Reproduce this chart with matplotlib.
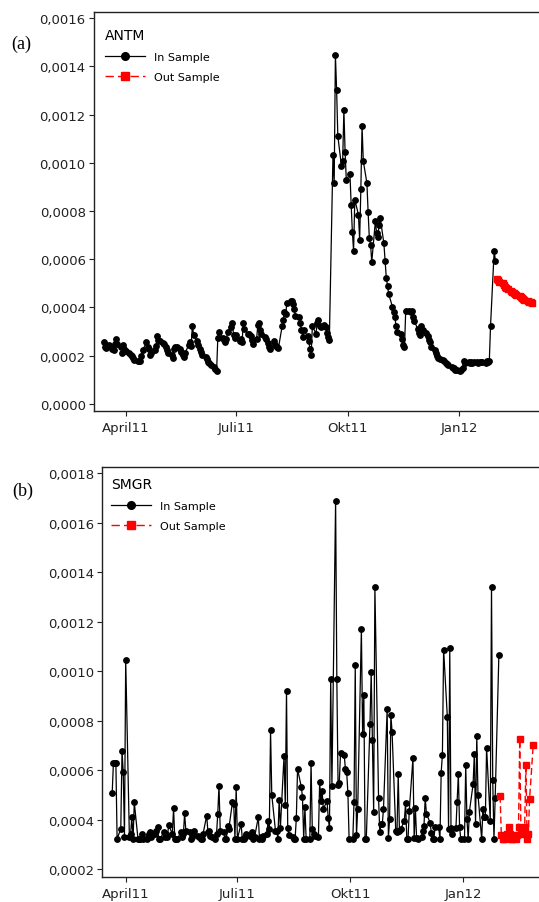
import matplotlib
matplotlib.use("Agg")
import numpy as np
import pandas as pd
import matplotlib.pyplot as plt
import matplotlib.dates as mdates
from matplotlib.lines import Line2D
from matplotlib.ticker import FuncFormatter, MultipleLocator

plt.rcParams['font.family'] = ['DejaVu Sans']

# ---- data (daily trading days) ----
antm_start = '2011-03-14'
antm_in = [
    0.000258, 0.000238, 0.000232, 0.00024, 0.000245, 0.000228, 0.000222, 0.00025, 0.000268, 0.000248,
    0.000238, 0.00021, 0.000245, 0.00023, 0.000218, 0.000212, 0.000205, 0.000198, 0.00019, 0.000182,
    0.000178, 0.000178, 0.00018, 0.0002, 0.000222, 0.000255, 0.000238, 0.000228, 0.000205, 0.000212,
    0.000222, 0.00024, 0.00028, 0.000265, 0.000262, 0.000252, 0.000248, 0.000238, 0.000225, 0.000212,
    0.000202, 0.000192, 0.000228, 0.000235, 0.000235, 0.000228, 0.000215, 0.000205, 0.000195, 0.000212,
    0.000245, 0.000255, 0.00024, 0.000325, 0.000288, 0.000262, 0.000245, 0.000228, 0.000215, 0.000205,
    0.000195, 0.000185, 0.000175, 0.000168, 0.00016, 0.000155, 0.000145, 0.000138, 0.000275, 0.000298,
    0.000275, 0.000265, 0.000258, 0.00027, 0.000298, 0.00032, 0.000335, 0.000285, 0.000272, 0.000285,
    0.000262, 0.00027, 0.000258, 0.000335, 0.00031, 0.00029, 0.00029, 0.00028, 0.000265, 0.00025,
    0.00027, 0.000328, 0.000335, 0.000305, 0.00029, 0.000278, 0.000268, 0.000252, 0.000238, 0.000228,
    0.000262, 0.000245, 0.00024, 0.000235, 0.000232, 0.000322, 0.00035, 0.00038, 0.000375, 0.000418,
    0.000425, 0.000425, 0.000415, 0.000395, 0.000365, 0.000362, 0.000335, 0.000305, 0.000278, 0.000305,
    0.000282, 0.00026, 0.00023, 0.000205, 0.000322, 0.000292, 0.000335, 0.00035, 0.000322, 0.000318,
    0.000328, 0.000318, 0.000295, 0.000278, 0.000265,
    0.001033, 0.000916, 0.001447, 0.001303, 0.001111, 0.000987, 0.001007, 0.00122, 0.001043, 0.000928,
    0.000955, 0.000826, 0.000713, 0.000634, 0.000847, 0.000785, 0.000681, 0.000892, 0.001152, 0.001007,
    0.000916, 0.000795, 0.000687, 0.000661, 0.000589, 0.000759, 0.000708, 0.000691, 0.000742, 0.00077,
    0.000666, 0.000594, 0.000522, 0.00049, 0.000455, 0.000404, 0.00038, 0.000362, 0.000325, 0.0003,
    0.00029, 0.00027, 0.000245, 0.000235,
    0.000385, 0.000385, 0.00038, 0.000385, 0.00036, 0.000345, 0.00031, 0.000295, 0.000285, 0.000325,
    0.000305, 0.000295, 0.00028, 0.000265, 0.000255, 0.000238, 0.000222,
    0.00021, 0.0002, 0.00019, 0.000188, 0.000182, 0.000178, 0.00017, 0.000165, 0.00016, 0.000155,
    0.00015, 0.000148, 0.000142, 0.00014, 0.000138, 0.00014, 0.000148, 0.000178, 0.00017, 0.000172,
    0.000168, 0.000172, 0.00017, 0.000175, 0.000172, 0.000168, 0.000175, 0.000172, 0.000175, 0.00017,
    0.000178, 0.000175, 0.00018, 0.000325, 0.000636, 0.000594,
]
antm_out = [
    0.000518, 0.000512, 0.000506, 0.0005, 0.000494, 0.000487, 0.000481, 0.000476, 0.00047, 0.000465,
    0.00046, 0.000455, 0.00045, 0.000446, 0.000442, 0.000438, 0.000434, 0.00043, 0.000427, 0.000424,
    0.000421, 0.000419,
]

smgr_start = '2011-03-21'
smgr_in = [
    0.000508, 0.000631, 0.000631, 0.000631, 0.000323, 0.000363, 0.000679, 0.000592, 0.00033, 0.001047,
    0.00033, 0.000343, 0.00041, 0.000323, 0.00047, 0.000323, 0.000323, 0.000323, 0.000343, 0.000323,
    0.000323, 0.00033, 0.000343, 0.00035, 0.00033, 0.000343, 0.000356, 0.00037, 0.000323, 0.000323,
    0.00035, 0.00033, 0.000343, 0.00033, 0.000379, 0.000343, 0.000446, 0.000323, 0.000323, 0.000323,
    0.00035, 0.00033, 0.000343, 0.000426, 0.000356, 0.00035, 0.000323, 0.00033, 0.000343, 0.000356,
    0.000336, 0.00033, 0.000323, 0.000323, 0.000343, 0.000417, 0.00035, 0.000356, 0.000336, 0.00033,
    0.000323, 0.000343, 0.000424, 0.000538, 0.000356, 0.00035, 0.000323, 0.000323, 0.000376, 0.000363,
    0.000473, 0.000464, 0.000323, 0.000531, 0.000323, 0.000383, 0.000323, 0.000323, 0.00033, 0.000343,
    0.000336, 0.000336, 0.00035, 0.000323, 0.00033, 0.00041, 0.000323, 0.00033, 0.000323, 0.000336,
    0.000343, 0.000396, 0.000363, 0.000761, 0.000501, 0.000356, 0.000356, 0.000323, 0.000481, 0.000366,
    0.000659, 0.00046, 0.000922, 0.000366, 0.00034, 0.00033, 0.000323, 0.000323, 0.000406, 0.000605,
    0.000534, 0.000494, 0.000323, 0.00045, 0.000323, 0.000323, 0.000631, 0.000363, 0.000343, 0.000336,
    0.00033, 0.000554, 0.000477, 0.000518, 0.000443, 0.000477, 0.000407, 0.000366, 0.000969, 0.000538,
    0.00169,
    0.000968, 0.00054, 0.00055, 0.00067, 0.000662, 0.000605, 0.000594, 0.00051, 0.000322, 0.000322,
    0.00047, 0.001025, 0.000338, 0.000443, 0.00117, 0.000747, 0.000906, 0.000322, 0.000322, 0.000787,
    0.000998, 0.000722, 0.00043, 0.001342, 0.000486, 0.000349, 0.000382, 0.000382, 0.000443, 0.000847,
    0.000326, 0.000403, 0.000823, 0.000756, 0.000355, 0.000349, 0.000585, 0.000355, 0.000362, 0.000396,
    0.000467, 0.000322, 0.000322, 0.000436, 0.000648, 0.000325, 0.000446, 0.000325, 0.000322, 0.000329,
    0.000355, 0.000376, 0.00049, 0.000423, 0.000389, 0.000346, 0.000322, 0.000322, 0.000369, 0.000369,
    0.000322, 0.000591, 0.000662, 0.001087, 0.000817, 0.000362, 0.001096, 0.000365, 0.000342, 0.000365,
    0.000473, 0.000585, 0.000369, 0.000322, 0.000322, 0.000621, 0.000403, 0.000322, 0.000433, 0.000544,
    0.000666, 0.000382, 0.00074, 0.0005, 0.000322, 0.000443, 0.000412, 0.000412, 0.000691, 0.000396,
    0.001342, 0.00056, 0.000322, 0.00049, 0.001066,
]
smgr_out = [
    0.000497, 0.00034, 0.000322, 0.000322, 0.000342, 0.000369, 0.000342, 0.000322, 0.000322, 0.000322,
    0.00034, 0.000369, 0.000726, 0.000342, 0.000369, 0.000623, 0.000322, 0.000342, 0.000483, 0.000704,
]

tick_dates = ['2011-04-01', '2011-07-01', '2011-10-01', '2012-01-01']
tick_labels = ['April11', 'Juli11', 'Okt11', 'Jan12']


def dates_for(start, n_in, n_out):
    d_in = pd.bdate_range(start, periods=n_in)
    d_out = pd.bdate_range(d_in[-1] + pd.offsets.BDay(1), periods=n_out)
    return mdates.date2num(d_in.to_pydatetime()), mdates.date2num(d_out.to_pydatetime())


comma = FuncFormatter(lambda v, p: f"{v:.4f}".replace('.', ','))
ref = mdates.date2num(pd.Timestamp('2011-04-01').to_pydatetime())

fig = plt.figure(figsize=(5.39, 9.03), dpi=100)
W, H = 539, 903


def panel(rect, start, vin, vout, name, xl, yl, ystep, label, label_xy, leg_at):
    ax = fig.add_axes([rect[0] / W, 1 - rect[3] / H, (rect[2] - rect[0]) / W, (rect[3] - rect[1]) / H])
    xin, xout = dates_for(start, len(vin), len(vout))
    ax.plot(xin, vin, color='black', lw=0.9, marker='o', ms=3.9, zorder=3)
    ax.plot(xout, vout, color='#ff0000', lw=1.0, ls=(0, (5, 2.5)), marker='s', ms=4.2, zorder=4)
    ax.set_xlim(ref + xl[0], ref + xl[1])
    ax.set_ylim(*yl)
    ax.yaxis.set_major_locator(MultipleLocator(ystep))
    ax.yaxis.set_major_formatter(comma)
    ax.set_xticks(mdates.date2num(pd.to_datetime(tick_dates).to_pydatetime()))
    ax.set_xticklabels(tick_labels)
    ax.spines['right'].set_visible(False)
    for s in ['top', 'left', 'bottom']:
        ax.spines[s].set_linewidth(1.0)
        ax.spines[s].set_color('#222222')
    ax.tick_params(axis='y', direction='out', length=3.5, width=0.8, labelsize=9.5, pad=2.5, colors='#222222')
    ax.tick_params(axis='x', direction='out', length=3.5, width=0.8, labelsize=9.5, pad=4, colors='#222222')
    handles = [
        Line2D([], [], color='black', lw=0.9, marker='o', ms=5.5),
        Line2D([], [], color='#ff0000', lw=1.0, ls=(0, (6, 3)), marker='s', ms=5.5),
    ]
    ax.legend(handles, ['In Sample', 'Out Sample'], title=name, loc='upper left',
              bbox_to_anchor=leg_at, frameon=False, fontsize=8,
              title_fontsize=10, alignment='left', handlelength=3.6,
              handletextpad=0.8, labelspacing=0.9, borderpad=0.3)
    fig.text(label_xy[0] / W, 1 - label_xy[1] / H, label, family='Liberation Serif',
             fontsize=13, ha='center', va='center')
    return ax


panel((94, 13, 560, 411.7), antm_start, antm_in, antm_out, 'ANTM',
      (-26.16, 358.3), (-0.0000278, 0.0016249), 0.0002, '(a)', (21, 44), (0.005, 0.982))
panel((102.3, 468, 560, 877.7), smgr_start, smgr_in, smgr_out, 'SMGR',
      (-19.06, 353.8), (0.00017, 0.0018255), 0.0002, '(b)', (23, 491), (0.0, 0.997))

fig.savefig('out.png', dpi=100)
